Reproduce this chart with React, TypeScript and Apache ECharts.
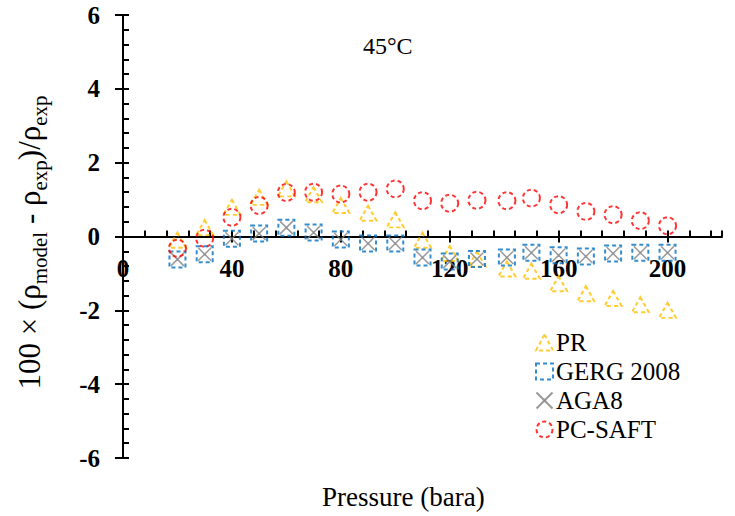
import React, { useEffect, useRef } from "react";
import * as echarts from "echarts";

const pressure = [20, 30, 40, 50, 60, 70, 80, 90, 100, 110, 120, 130, 141, 150, 160, 170, 180, 190, 200];
const prValues = [-0.1, 0.24, 0.79, 1.06, 1.29, 1.13, 0.84, 0.63, 0.45, -0.1, -0.46, -0.61, -0.88, -0.94, -1.28, -1.55, -1.68, -1.85, -2.0];
const gergValues = [-0.62, -0.48, -0.06, 0.08, 0.24, 0.11, -0.08, -0.19, -0.19, -0.57, -0.68, -0.61, -0.57, -0.44, -0.51, -0.54, -0.46, -0.44, -0.44];
const aga8Values = [-0.62, -0.48, -0.06, 0.08, 0.24, 0.11, -0.08, -0.19, -0.19, -0.57, -0.68, -0.61, -0.57, -0.44, -0.51, -0.54, -0.46, -0.44, -0.44];
const pcSaftValues = [-0.32, -0.05, 0.52, 0.84, 1.19, 1.2, 1.15, 1.2, 1.29, 0.97, 0.9, 0.98, 0.97, 1.04, 0.86, 0.68, 0.59, 0.43, 0.29];
const seriesNames = ["PR", "GERG 2008", "AGA8", "PC-SAFT"];
const titleText = "45°C";
const xAxisTitle = "Pressure (bara)";

const FONT = "Liberation Serif";

function pairs(vals: number[]) {
  return pressure.map((p, i) => [p, vals[i]]);
}

export default function App() {
  const ref = useRef<HTMLDivElement>(null);
  useEffect(() => {
    if (!ref.current) return;
    const chart = echarts.init(ref.current, null, { renderer: "svg" });
    const dash = [4, 3];
    chart.setOption({
      animation: false,
      backgroundColor: "#ffffff",
      textStyle: { fontFamily: FONT },
      grid: { left: 123, right: 13, top: 15, bottom: 58, containLabel: false, outerBoundsMode: "none" },
      title: {
        text: titleText,
        left: 358,
        top: 29,
        textStyle: { fontFamily: FONT, fontSize: 24, fontWeight: "normal", color: "#000" },
      },
      legend: {
        orient: "vertical",
        left: 530,
        top: 325,
        itemGap: 4,
        itemWidth: 17,
        itemHeight: 16,
        data: [
          { name: seriesNames[0], itemStyle: { borderType: dash } },
          { name: seriesNames[1], itemStyle: { borderType: dash } },
          { name: seriesNames[2] },
          { name: seriesNames[3], itemStyle: { borderType: dash } },
        ],
        textStyle: { fontFamily: FONT, fontSize: 25, color: "#000", padding: [0, 0, 0, -2] },
      },
      graphic: [
        {
          type: "text",
          left: 322,
          top: 483,
          style: { text: xAxisTitle, fontFamily: FONT, fontSize: 27, fill: "#000" },
        },
      ],
      xAxis: [
        {
          type: "value",
          min: 0,
          max: 220,
          interval: 40,
          splitLine: { show: false },
          axisLine: { show: true, onZero: true, onZeroAxisIndex: 0, lineStyle: { color: "#000", width: 2 } },
          axisTick: { show: true, inside: false, length: 6, lineStyle: { color: "#000", width: 2 } },
          axisLabel: {
            show: true,
            showMaxLabel: false,
            margin: -202,
            fontFamily: FONT,
            fontSize: 25,
            fontWeight: "bold",
            color: "#000",
          },
        },
        {
          type: "value",
          min: 0,
          max: 220,
          interval: 8,
          position: "bottom",
          splitLine: { show: false },
          axisLine: { show: false, onZero: true, onZeroAxisIndex: 1 },
          axisTick: { show: true, inside: true, length: 6, lineStyle: { color: "#000", width: 2 } },
          axisLabel: { show: false },
        },
      ],
      yAxis: [
        {
          type: "value",
          min: -6,
          max: 6,
          interval: 2,
          splitLine: { show: false },
          axisLine: { show: true, onZero: false, lineStyle: { color: "#000", width: 2 } },
          axisTick: { show: true, inside: false, length: 8, lineStyle: { color: "#000", width: 2 } },
          axisLabel: {
            margin: 23,
            fontFamily: FONT,
            fontSize: 25,
            fontWeight: "bold",
            color: "#000",
          },
          nameLocation: "middle",
          nameGap: 78,
          name: "100 × (ρ{sub|model} - ρ{sub|exp})/ρ{sub|exp}",
          nameTextStyle: {
            fontFamily: FONT,
            fontSize: 31,
            color: "#000",
            lineHeight: 32,
            padding: [0, 12, 0, 0],
            rich: {
              sub: { fontFamily: FONT, fontSize: 21, color: "#000", verticalAlign: "bottom", lineHeight: 21, padding: [0, 0, -5, 0] },
            },
          },
        },
        {
          type: "value",
          min: -6,
          max: 6,
          interval: 0.4,
          position: "left",
          splitLine: { show: false },
          axisLine: { show: false, onZero: false },
          axisTick: { show: true, inside: true, length: 6, lineStyle: { color: "#000", width: 2 } },
          axisLabel: { show: false },
        },
      ],
      series: [
        {
          name: seriesNames[0],
          type: "scatter",
          data: pairs(prValues),
          symbol: "triangle",
          symbolSize: [17, 15],
          itemStyle: { color: "rgba(0,0,0,0)", borderColor: "#FFC000", borderWidth: 2, borderType: dash },
          z: 2,
        },
        {
          name: seriesNames[1],
          type: "scatter",
          data: pairs(gergValues),
          symbol: "rect",
          symbolSize: 16,
          itemStyle: { color: "rgba(0,0,0,0)", borderColor: "#0070C0", borderWidth: 2, borderType: dash },
          z: 3,
        },
        {
          name: seriesNames[2],
          type: "scatter",
          data: pairs(aga8Values),
          symbol: "path://M0 0L10 10M10 0L0 10M4.6 5L5 4.6L5.4 5L5 5.4Z",
          symbolSize: 13,
          itemStyle: { color: "#808080", borderColor: "#808080", borderWidth: 1.5 },
          z: 4,
        },
        {
          name: seriesNames[3],
          type: "scatter",
          data: pairs(pcSaftValues),
          symbol: "circle",
          symbolSize: 17,
          itemStyle: { color: "rgba(0,0,0,0)", borderColor: "#FF0000", borderWidth: 2, borderType: dash },
          z: 5,
        },
      ],
    });
    return () => chart.dispose();
  }, []);
  return (
    <div
      ref={ref}
      style={{ position: "fixed", left: 0, top: 0, width: 735, height: 516, background: "#fff" }}
    />
  );
}
